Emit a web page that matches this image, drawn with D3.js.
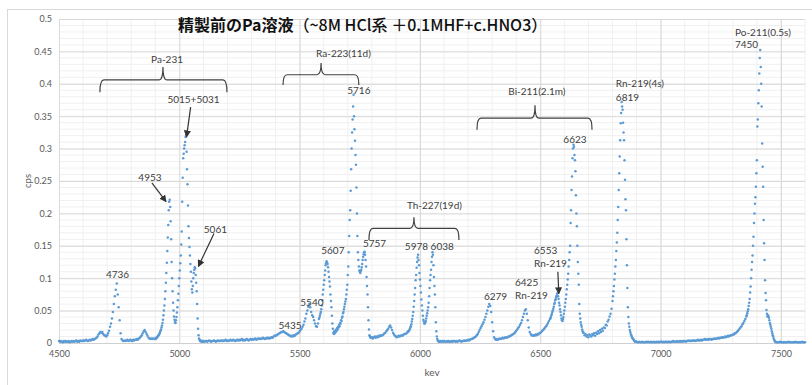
<!DOCTYPE html>
<html>
<head>
<meta charset="utf-8">
<script src="https://cdn.jsdelivr.net/npm/d3@7"></script>
<style>
  body { margin: 0; background: #fff; }
  text { font-family: Lato, "Noto Sans", sans-serif; }
</style>
</head>
<body>
<script>
// spectrum, stored per region: 4 keV channels on the flat parts, 2 keV on the peaks
const base1 = [ // 4500-4896, step 4
  0.003,0.002,0.003,0.002,0.001,0.003,0.002,0.003,0.002,0.002,0.003,0.001,0.002,0.003,0.002,0.003,0.002,0.003,0.004,0.002,
  0.003,0.002,0.004,0.003,0.003,0.004,0.003,0.004,0.005,0.004,0.003,0.004,0.005,0.004,0.005,0.006,0.005,0.006,0.007,0.008,
  0.010,0.013,0.015,0.017,0.016,0.017,0.014,0.012,0.011,0.010,0.012,0.015,0.019,0.025,0.030,0.038,0.048,0.060,0.072,0.082,
  0.092,0.075,0.055,0.035,0.015,0.006,0.004,0.003,0.004,0.003,0.004,0.005,0.003,0.004,0.005,0.004,0.003,0.005,0.004,0.005,
  0.005,0.006,0.005,0.007,0.008,0.010,0.012,0.015,0.018,0.020,0.017,0.014,0.011,0.008,0.007,0.006,0.007,0.006,0.007,0.006
];
const pa231 = [ // 4900-5098, step 2
  0.007,0.006,0.008,0.008,0.009,0.010,0.011,0.012,0.013,0.015,0.017,0.019,0.021,0.024,0.027,0.031,0.036,0.043,0.050,0.058,
  0.068,0.080,0.093,0.108,0.124,0.142,0.163,0.182,0.205,0.218,0.221,0.210,0.188,0.160,0.125,0.100,0.080,0.062,0.050,0.041,
  0.036,0.032,0.031,0.035,0.040,0.047,0.055,0.066,0.076,0.088,0.100,0.112,0.123,0.135,0.152,0.172,0.218,0.255,0.285,0.292,
  0.300,0.305,0.310,0.318,0.321,0.295,0.268,0.245,0.212,0.180,0.162,0.148,0.135,0.122,0.110,0.095,0.083,0.078,0.088,0.100,
  0.108,0.113,0.117,0.115,0.105,0.093,0.080,0.060,0.038,0.022,0.012,0.007,0.005,0.003,0.004,0.003,0.002,0.003,0.003,0.002
];
const base2 = [ // 5100-5576, step 4
  0.003,0.002,0.003,0.003,0.002,0.003,0.004,0.003,0.002,0.003,
  0.003,0.004,0.003,0.002,0.003,0.004,0.003,0.003,0.004,0.003,0.004,0.003,0.004,0.005,0.003,0.004,0.003,0.004,0.005,0.004,
  0.004,0.005,0.004,0.003,0.004,0.005,0.004,0.005,0.004,0.005,0.006,0.004,0.005,0.004,0.005,0.006,0.005,0.004,0.005,0.006,
  0.005,0.006,0.005,0.006,0.007,0.005,0.006,0.007,0.006,0.007,0.006,0.007,0.008,0.007,0.006,0.007,0.008,0.007,0.008,0.007,
  0.008,0.009,0.008,0.010,0.011,0.011,0.012,0.013,0.014,0.015,0.016,0.017,0.017,0.018,0.017,0.016,0.015,0.014,0.013,0.012,
  0.011,0.010,0.011,0.010,0.012,0.011,0.013,0.014,0.015,0.016,0.018,0.020,0.022,0.025,0.028,0.033,0.038,0.045,0.050,0.056,
  0.060,0.055,0.048,0.043,0.040,0.035,0.030,0.026,0.025,0.030
];
const ra223 = [ // 5580-5798, step 2
  0.037,0.039,0.042,0.045,0.048,0.052,0.058,0.066,0.075,0.082,0.090,0.097,0.105,0.112,0.120,0.123,0.126,0.124,0.122,0.117,
  0.110,0.102,0.095,0.087,0.075,0.065,0.055,0.042,0.030,0.022,0.016,0.014,0.018,0.015,0.019,0.017,0.021,0.019,0.023,0.021,
  0.025,0.024,0.028,0.026,0.031,0.030,0.035,0.034,0.039,0.041,0.046,0.048,0.052,0.056,0.060,0.064,0.068,0.075,0.082,0.090,
  0.105,0.118,0.140,0.165,0.190,0.205,0.235,0.268,0.300,0.325,0.345,0.365,0.383,0.350,0.330,0.312,0.290,0.275,0.240,0.200,
  0.165,0.140,0.128,0.118,0.112,0.110,0.108,0.111,0.113,0.117,0.122,0.128,0.133,0.137,0.140,0.141,0.136,0.128,0.118,0.102,
  0.088,0.075,0.055,0.035,0.021,0.012,0.010,0.009,0.008,0.009
];
const base3 = [ // 5800-5948, step 4
  0.009,0.007,0.009,0.010,0.008,0.010,0.009,0.011,0.010,0.012,0.011,0.012,0.013,0.015,0.016,
  0.018,0.020,0.022,0.025,0.027,0.024,0.020,0.016,0.013,0.011,0.010,0.009,0.010,0.011,0.010,0.011,0.012,0.011,0.013,0.014,
  0.014,0.015,0.017
];
const th227 = [ // 5950-6078, step 2
  0.017,0.018,0.019,0.020,0.022,0.024,0.026,0.029,0.033,0.037,0.042,0.048,0.056,0.065,0.075,0.085,0.097,0.105,0.116,0.125,
  0.132,0.136,0.128,0.120,0.108,0.098,0.088,0.078,0.067,0.058,0.050,0.042,0.036,0.033,0.030,0.030,0.032,0.034,0.038,0.042,
  0.046,0.050,0.055,0.062,0.072,0.085,0.097,0.105,0.113,0.125,0.133,0.140,0.136,0.120,0.102,0.088,0.075,0.055,0.032,0.018,
  0.010,0.006,0.004,0.003,0.002
];
const base4 = [ // 6080-6536, step 4
  0.002,0.003,0.002,0.003,0.002,
  0.003,0.002,0.002,0.003,0.002,0.003,0.002,0.002,0.003,0.002,0.003,0.003,0.002,0.003,0.002,0.003,0.004,0.003,0.002,0.003,
  0.003,0.004,0.003,0.004,0.004,0.005,0.004,0.005,0.006,0.006,0.007,0.008,0.009,0.010,0.012,0.014,0.017,0.020,0.023,0.026,
  0.029,0.032,0.036,0.040,0.045,0.050,0.056,0.060,0.057,0.048,0.032,0.018,0.009,0.006,0.005,0.006,0.005,0.006,0.007,0.006,
  0.007,0.008,0.007,0.008,0.009,0.008,0.009,0.010,0.010,0.011,0.012,0.013,0.014,0.015,0.017,0.019,0.021,0.023,0.025,0.028,
  0.031,0.035,0.040,0.045,0.050,0.052,0.045,0.035,0.024,0.017,0.014,0.012,0.011,0.012,0.011,0.013,0.012,0.014,0.013,0.015,
  0.016,0.017,0.019,0.020,0.022,0.024,0.026,0.028,0.031,0.034
];
const bi211 = [ // 6540-6678, step 2
  0.037,0.038,0.040,0.043,0.045,0.048,0.050,0.053,0.056,0.060,0.062,0.066,0.068,0.071,0.073,0.076,0.077,0.072,0.068,0.062,
  0.058,0.052,0.048,0.043,0.038,0.035,0.034,0.037,0.040,0.045,0.050,0.056,0.062,0.068,0.075,0.083,0.090,0.098,0.107,0.118,
  0.128,0.140,0.150,0.185,0.205,0.236,0.257,0.285,0.300,0.306,0.303,0.290,0.282,0.265,0.228,0.200,0.180,0.150,0.125,0.107,
  0.090,0.060,0.045,0.038,0.032,0.028,0.025,0.021,0.018,0.016
];
const base5 = [ // 6680-6796, step 4
  0.016,0.012,0.014,0.010,0.012,0.009,0.013,0.011,0.010,0.014,0.012,0.015,0.011,0.016,0.014,
  0.018,0.015,0.020,0.017,0.022,0.019,0.024,0.023,0.028,0.027,0.033,0.036,0.041,0.045,0.053
];
const rn219 = [ // 6800-6898, step 2
  0.065,0.072,0.080,0.088,0.098,0.107,0.118,0.128,0.142,0.155,0.170,0.190,0.210,0.236,0.262,0.288,0.313,0.339,0.355,0.372,
  0.365,0.360,0.340,0.325,0.313,0.282,0.252,0.222,0.205,0.160,0.120,0.085,0.055,0.040,0.030,0.025,0.020,0.017,0.014,0.012,
  0.010,0.008,0.007,0.006,0.005,0.004,0.003,0.002,0.002,0.002
];
const base6 = [ // 6900-7356, step 4
  0.002,0.001,0.001,0.002,0.001,0.001,0.002,0.001,0.001,0.001,0.002,0.001,0.002,0.001,0.001,0.002,0.001,0.001,0.002,0.001,
  0.001,0.002,0.001,0.002,0.001,0.002,0.002,0.001,0.002,0.001,0.002,0.002,0.001,0.002,0.002,0.001,0.002,0.002,0.003,0.002,
  0.002,0.002,0.003,0.002,0.002,0.003,0.002,0.003,0.002,0.003,0.003,0.002,0.003,0.003,0.004,0.003,0.003,0.004,0.003,0.004,
  0.004,0.003,0.004,0.004,0.005,0.004,0.004,0.005,0.004,0.005,0.005,0.006,0.005,0.005,0.006,0.005,0.006,0.006,0.005,0.006,
  0.006,0.007,0.006,0.007,0.007,0.008,0.007,0.008,0.008,0.009,0.008,0.009,0.010,0.009,0.010,0.011,0.010,0.011,0.012,0.012,
  0.013,0.013,0.015,0.015,0.017,0.018,0.020,0.022,0.024,0.026,0.029,0.031,0.034,0.037,0.041
];
const po211 = [ // 7358-7480, step 2
  0.043,0.046,0.049,0.052,0.057,0.062,0.068,0.078,0.087,0.100,0.113,0.125,0.135,0.150,0.164,0.185,0.200,0.215,0.225,0.241,
  0.262,0.282,0.334,0.345,0.370,0.390,0.416,0.440,0.452,0.426,0.400,0.365,0.308,0.272,0.241,0.190,0.154,0.128,0.097,0.077,
  0.066,0.051,0.045,0.041,0.043,0.041,0.039,0.035,0.031,0.028,0.025,0.022,0.018,0.015,0.012,0.010,0.007,0.005,0.003,0.002,
  0.002,0.001
];
const base7 = [ // 7484-7600, step 4
  0.001,0.001,0.001,0.002,0.001,0.001,0.001,0.001,0.001,0.001,0.001,0.001,0.002,0.001,0.001,
  0.001,0.001,0.001,0.001,0.002,0.001,0.001,0.001,0.001,0.001,0.001,0.002,0.001,0.001,0.001
];

const xTicks = [4500, 5000, 5500, 6000, 6500, 7000, 7500];
const yTicks = [0, 0.05, 0.1, 0.15, 0.2, 0.25, 0.3, 0.35, 0.4, 0.45, 0.5];

// annotation text: [text, keV, cps, anchor]
const labels = [
  ["Pa-231", 4949, 0.432, "middle"],
  ["5015+5031", 5059, 0.370, "middle"],
  ["4953", 4878, 0.250, "middle"],
  ["5061", 5150, 0.170, "middle"],
  ["4736", 4743, 0.100, "middle"],
  ["Ra-223(11d)", 5682, 0.441, "middle"],
  ["5716", 5746, 0.384, "middle"],
  ["Bi-211(2.1m)", 6486, 0.383, "middle"],
  ["Rn-219(4s)", 6814, 0.395, "start"],
  ["6819", 6814, 0.373, "start"],
  ["6623", 6644, 0.309, "middle"],
  ["Po-211(0.5s)", 7309, 0.474, "start"],
  ["7450", 7309, 0.455, "start"],
  ["Th-227(19d)", 6060, 0.207, "middle"],
  ["5757", 5811, 0.148, "middle"],
  ["5607", 5638, 0.137, "middle"],
  ["5978 6038", 6039, 0.144, "middle"],
  ["5540", 5551, 0.057, "middle"],
  ["5435", 5460, 0.022, "middle"],
  ["6279", 6314, 0.066, "middle"],
  ["6425", 6395, 0.088, "start"],
  ["Rn-219", 6395, 0.068, "start"],
  ["6553", 6474, 0.137, "start"],
  ["Rn-219", 6474, 0.117, "start"]
];

// braces: [left keV, right keV, tip keV, line cps, end cps, tip cps]
const braces = [
  [4670, 5198, 4932, 0.406, 0.387, 0.426],
  [5431, 5746, 5589, 0.414, 0.398, 0.432],
  [6237, 6715, 6478, 0.347, 0.329, 0.367],
  [5788, 6162, 5975, 0.177, 0.159, 0.194]
];

// arrows: [from keV, from cps, to keV, to cps]
const arrows = [
  [5047, 0.364, 5030, 0.318],
  [4886, 0.247, 4945, 0.218],
  [5144, 0.169, 5079, 0.118],
  [6573, 0.110, 6577, 0.076]
];

const segments = [
  [4500, 4, base1], [4900, 2, pa231], [5100, 4, base2], [5580, 2, ra223],
  [5800, 4, base3], [5950, 2, th227], [6080, 4, base4], [6540, 2, bi211],
  [6680, 4, base5], [6800, 2, rn219], [6900, 4, base6], [7358, 2, po211],
  [7484, 4, base7]
];
const points = segments.flatMap(([start, step, vals]) => vals.map((v, i) => ({ kev: start + i * step, cps: v })));

const margin = { top: 19, bottom: 42, left: 59, right: 7 };
const width = 812 - margin.left - margin.right;
const height = 385 - margin.top - margin.bottom;

const svg = d3.select("body").append("svg").attr("width", 812).attr("height", 385);

svg.append("rect").attr("width", 812).attr("height", 385).attr("fill", "#fff");
svg.append("rect")
  .attr("x", 7.5).attr("y", 9.5).attr("width", 830).attr("height", 400)
  .attr("fill", "none").attr("stroke", "#d9d9d9");

const graph = svg.append("g").attr("transform", `translate(${margin.left}, ${margin.top})`);

const x = d3.scaleLinear().domain([4500, 7600]).range([0, width]);
const y = d3.scaleLinear().domain([0, 0.5]).range([height, 0]);

// minor grid
graph.append("g").selectAll("line").data(d3.range(4600, 7601, 100))
  .join("line")
  .attr("x1", d => x(d)).attr("x2", d => x(d)).attr("y1", 0).attr("y2", height)
  .attr("stroke", "#f0f0f0");
graph.append("g").selectAll("line").data(d3.range(0.01, 0.5, 0.01))
  .join("line")
  .attr("x1", 0).attr("x2", width).attr("y1", d => y(d)).attr("y2", d => y(d))
  .attr("stroke", "#f0f0f0");

// major grid + tick labels
const xAxis = d3.axisBottom(x).tickValues(xTicks).tickSize(-height).tickPadding(8).tickFormat(d3.format("d"));
const yAxis = d3.axisLeft(y).tickValues(yTicks).tickSize(-width).tickPadding(7).tickFormat(d => String(+d.toFixed(2)));

const xAxisGroup = graph.append("g").attr("transform", `translate(0,${height})`).call(xAxis);
const yAxisGroup = graph.append("g").call(yAxis);

[xAxisGroup, yAxisGroup].forEach(g => {
  g.select(".domain").remove();
  g.selectAll("line").attr("stroke", "#d9d9d9");
  g.selectAll("text").attr("fill", "#595959").style("font-size", "9px").style("font-family", "Lato");
});
graph.append("line")
  .attr("x1", 0).attr("x2", width).attr("y1", height + 0.5).attr("y2", height + 0.5)
  .attr("stroke", "#d0d0d0");

// data points
graph.append("g").selectAll("circle").data(points)
  .join("circle")
  .attr("cx", d => x(d.kev))
  .attr("cy", d => y(d.cps))
  .attr("r", 1.25)
  .attr("fill", "#5b9bd5");

// axis titles
svg.append("text")
  .attr("transform", `translate(31, ${margin.top + height / 2}) rotate(-90)`)
  .attr("text-anchor", "middle")
  .attr("fill", "#595959").style("font-size", "9.5px")
  .text("cps");
svg.append("text")
  .attr("x", margin.left + width / 2).attr("y", 376)
  .attr("text-anchor", "middle")
  .attr("fill", "#595959").style("font-size", "10px")
  .text("kev");

// title
const title = svg.append("text")
  .attr("x", 178).attr("y", 31)
  .attr("fill", "#111")
  .style("font-family", "'Noto Sans CJK JP', sans-serif")
  .style("font-size", "16px");
title.append("tspan").attr("font-weight", "bold").text("精製前のPa溶液");
title.append("tspan").attr("font-weight", "500").text("（~8M HCl系 ＋0.1MHF+c.HNO3）");

// annotations
svg.append("defs").append("marker")
  .attr("id", "arrow")
  .attr("viewBox", "0 0 10 10")
  .attr("refX", 9).attr("refY", 5)
  .attr("markerWidth", 6).attr("markerHeight", 6)
  .attr("orient", "auto")
  .append("path").attr("d", "M0,0 L10,5 L0,10 z").attr("fill", "#333");

graph.append("g").selectAll("line").data(arrows)
  .join("line")
  .attr("x1", d => x(d[0])).attr("y1", d => y(d[1]))
  .attr("x2", d => x(d[2])).attr("y2", d => y(d[3]))
  .attr("stroke", "#333").attr("stroke-width", 1.2)
  .attr("marker-end", "url(#arrow)");

graph.append("g").selectAll("path").data(braces)
  .join("path")
  .attr("d", d => {
    const x1 = x(d[0]), x2 = x(d[1]), xt = x(d[2]);
    const yl = y(d[3]), ye = y(d[4]), yt = y(d[5]);
    const r = 4;
    return `M${x1},${ye} Q${x1},${yl} ${x1 + r},${yl} L${xt - r},${yl} Q${xt},${yl} ${xt},${yt}` +
      ` Q${xt},${yl} ${xt + r},${yl} L${x2 - r},${yl} Q${x2},${yl} ${x2},${ye}`;
  })
  .attr("fill", "none").attr("stroke", "#404040").attr("stroke-width", 1.2);

graph.append("g").selectAll("text").data(labels)
  .join("text")
  .attr("x", d => x(d[1])).attr("y", d => y(d[2]))
  .attr("text-anchor", d => d[3])
  .attr("fill", "#404040")
  .style("font-size", "10px")
  .text(d => d[0]);
</script>
</body>
</html>
